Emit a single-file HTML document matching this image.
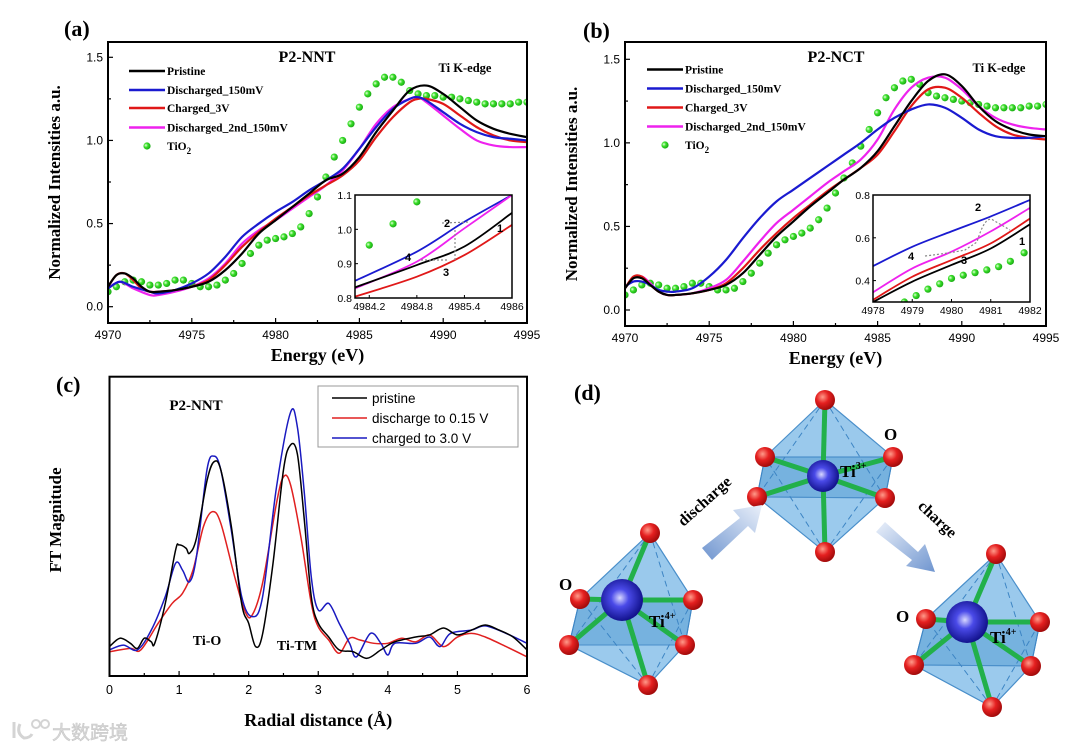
<!DOCTYPE html>
<html><head><meta charset="utf-8">
<style>
html,body{margin:0;padding:0;background:#fff;}
svg{display:block;}
.ser{font-family:"Liberation Serif",serif;font-weight:bold;}
.sans{font-family:"Liberation Sans",sans-serif;}
</style></head>
<body>
<svg id="fig" width="1080" height="750" viewBox="0 0 1080 750" xmlns="http://www.w3.org/2000/svg">
<defs>
<radialGradient id="gO" cx="0.38" cy="0.35" r="0.7"><stop offset="0" stop-color="#ff9a8a"/><stop offset="0.45" stop-color="#e52020"/><stop offset="1" stop-color="#9a0808"/></radialGradient>
<radialGradient id="gTi" cx="0.45" cy="0.45" r="0.6"><stop offset="0" stop-color="#d8d8ff"/><stop offset="0.35" stop-color="#4a4ae8"/><stop offset="1" stop-color="#0a0a80"/></radialGradient>
<radialGradient id="gDot" cx="0.35" cy="0.4" r="0.7"><stop offset="0" stop-color="#e8ffe0"/><stop offset="0.4" stop-color="#3be02a"/><stop offset="1" stop-color="#14a010"/></radialGradient>
<linearGradient id="gArrL" x1="0" y1="1" x2="1" y2="0"><stop offset="0" stop-color="#6f95cf"/><stop offset="1" stop-color="#eaf0fa"/></linearGradient>
<linearGradient id="gArrR" x1="0" y1="0" x2="1" y2="1"><stop offset="0" stop-color="#eaf0fa"/><stop offset="1" stop-color="#6f95cf"/></linearGradient>
</defs>
<g id="root"></g>
</svg>
<script>
// ===== Panel (a) data =====
const aPristineX=[4970,4970.5,4971,4971.5,4972,4972.5,4973,4974,4975,4976,4977,4978,4979,4980,4981,4982,4983,4984,4985,4986,4987,4988,4989,4990,4991,4992,4993,4994,4995];
const aPristineY=[0.12,0.19,0.2,0.17,0.12,0.09,0.09,0.1,0.12,0.15,0.22,0.32,0.44,0.52,0.6,0.68,0.76,0.8,0.9,1.05,1.18,1.3,1.33,1.28,1.2,1.12,1.07,1.04,1.02];
const aBlueX=[4970,4970.7,4971.5,4972.5,4973,4974,4975,4976,4977,4978,4979,4980,4981,4982,4983,4984,4985,4986,4987,4988,4988.5,4989,4990,4991,4992,4993,4994,4995];
const aBlueY=[0.11,0.15,0.12,0.09,0.08,0.1,0.14,0.2,0.3,0.42,0.5,0.57,0.63,0.7,0.76,0.83,0.95,1.08,1.19,1.25,1.26,1.24,1.17,1.1,1.05,1.02,1.01,1.0];
const aRedX=[4970,4970.5,4971,4971.5,4972,4972.5,4973,4974,4975,4976,4977,4978,4979,4980,4981,4982,4983,4984,4985,4986,4987,4988,4988.5,4989,4990,4991,4992,4993,4994,4995];
const aRedY=[0.12,0.19,0.2,0.16,0.11,0.09,0.09,0.1,0.12,0.16,0.25,0.36,0.45,0.53,0.6,0.67,0.73,0.79,0.88,1.02,1.14,1.23,1.25,1.25,1.22,1.15,1.08,1.03,1.0,0.99];
const aMagX=[4970,4970.7,4971.5,4972.5,4973,4974,4975,4976,4977,4978,4979,4980,4981,4982,4983,4984,4985,4986,4987,4988,4988.5,4989,4990,4991,4992,4993,4994,4995];
const aMagY=[0.11,0.15,0.11,0.07,0.07,0.09,0.12,0.17,0.26,0.38,0.46,0.52,0.59,0.66,0.73,0.82,0.95,1.1,1.2,1.25,1.26,1.23,1.15,1.07,1.0,0.97,0.96,0.96];
const aTiO2X=[4970,4970.5,4971,4971.5,4972,4972.5,4973,4973.5,4974,4974.5,4975,4975.5,4976,4976.5,4977,4977.5,4978,4978.5,4979,4979.5,4980,4980.5,4981,4981.5,4982,4982.5,4983,4983.5,4984,4984.5,4985,4985.5,4986,4986.5,4987,4987.5,4988,4988.5,4989,4989.5,4990,4990.5,4991,4991.5,4992,4992.5,4993,4993.5,4994,4994.5,4995];
const aTiO2Y=[0.09,0.12,0.15,0.16,0.15,0.13,0.13,0.14,0.16,0.16,0.14,0.12,0.12,0.13,0.16,0.2,0.26,0.32,0.37,0.4,0.41,0.42,0.44,0.48,0.56,0.66,0.78,0.9,1.0,1.1,1.2,1.28,1.34,1.38,1.38,1.35,1.3,1.28,1.27,1.27,1.26,1.26,1.25,1.24,1.23,1.22,1.22,1.22,1.22,1.23,1.23];
// inset (a)
const aiX=[4984.02,4984.8,4985.4,4986];
const aiBlue=[0.85,0.935,1.022,1.1];
const aiMag=[0.828,0.906,1.003,1.1];
const aiBlack=[0.831,0.896,0.95,1.048];
const aiRed=[0.804,0.862,0.925,1.013];
const aiDotX=[4984.2,4984.5,4984.8];
const aiDotY=[0.954,1.016,1.08];
// ===== Panel (b) data =====
const bX=[4970,4970.5,4971,4971.5,4972,4972.5,4973,4974,4975,4976,4977,4978,4979,4980,4981,4982,4983,4984,4985,4986,4987,4988,4989,4990,4991,4992,4993,4994,4995];
const bPristineY=[0.13,0.19,0.19,0.15,0.11,0.09,0.09,0.1,0.12,0.15,0.22,0.33,0.44,0.53,0.62,0.7,0.78,0.85,0.95,1.1,1.25,1.37,1.41,1.34,1.22,1.13,1.08,1.05,1.04];
const bBlueY=[0.14,0.17,0.17,0.15,0.12,0.11,0.11,0.13,0.2,0.3,0.43,0.55,0.65,0.72,0.79,0.86,0.93,1.0,1.08,1.15,1.2,1.23,1.21,1.15,1.08,1.04,1.03,1.03,1.04];
const bRedY=[0.13,0.2,0.2,0.15,0.11,0.09,0.09,0.1,0.12,0.16,0.25,0.36,0.46,0.55,0.63,0.71,0.78,0.85,0.93,1.07,1.22,1.32,1.33,1.27,1.18,1.1,1.05,1.03,1.02];
const bMagY=[0.13,0.19,0.2,0.16,0.11,0.09,0.09,0.1,0.13,0.18,0.29,0.41,0.52,0.6,0.68,0.76,0.83,0.9,1.02,1.2,1.33,1.39,1.39,1.32,1.22,1.15,1.11,1.09,1.08];
const bTiO2Y=[0.09,0.12,0.15,0.16,0.15,0.13,0.13,0.14,0.16,0.16,0.14,0.12,0.12,0.13,0.17,0.22,0.28,0.34,0.39,0.42,0.44,0.46,0.49,0.54,0.61,0.7,0.79,0.88,0.98,1.08,1.18,1.27,1.33,1.37,1.38,1.35,1.3,1.28,1.27,1.26,1.25,1.24,1.23,1.22,1.21,1.21,1.21,1.21,1.22,1.22,1.23];
// inset (b)
const biX=[4978,4979,4980,4981,4982];
const biBlue=[0.468,0.558,0.63,0.70,0.777];
const biMag=[0.345,0.457,0.535,0.63,0.74];
const biRed=[0.31,0.418,0.496,0.574,0.69];
const biBlack=[0.3,0.395,0.473,0.55,0.663];
const biDotX=[4978.8,4979.1,4979.4,4979.7,4980.0,4980.3,4980.6,4980.9,4981.2,4981.5,4981.85];
const biDotY=[0.30,0.33,0.36,0.385,0.41,0.425,0.437,0.45,0.465,0.49,0.53];
// ===== Panel (c) data =====
const cBlackX=[0,0.15,0.3,0.4,0.5,0.6,0.65,0.8,0.95,1.0,1.1,1.15,1.25,1.4,1.5,1.6,1.75,1.9,2.0,2.1,2.2,2.35,2.5,2.6,2.7,2.8,2.9,3.0,3.15,3.3,3.5,3.7,3.9,4.1,4.4,4.6,4.8,5.0,5.2,5.4,5.6,5.8,6.0];
const cBlackY=[9.8,12.6,10.9,9.2,12.6,11.4,10.9,24,42,43.7,42.6,40.9,46,65,71.4,68.7,50,24,17.6,9.8,14,37.6,68.7,77,74,52,26.4,17.6,13,8.7,8.1,5.9,8.7,11.4,13,13.7,16,13.7,15.3,17,15.3,13,8.7];
const cBlueX=[0,0.2,0.4,0.6,0.8,0.95,1.05,1.15,1.25,1.4,1.5,1.6,1.75,1.9,2.05,2.2,2.4,2.6,2.7,2.8,2.9,3.0,3.15,3.3,3.45,3.55,3.75,3.9,4.0,4.1,4.4,4.6,4.75,4.9,5.2,5.4,5.7,6.0];
const cBlueY=[8.7,10.3,8.7,15.3,26.4,37.6,35.3,31.4,39.8,68.7,73.3,68.7,48.7,26.4,19.8,26.4,63,87.8,83,61,33,22,24.2,17.6,10.9,6.4,14.2,10.9,7,10.9,10.9,13,9.8,14.2,15.3,16.7,14.2,10.9];
const cRedX=[0,0.3,0.45,0.7,0.9,1.05,1.2,1.35,1.48,1.6,1.8,1.95,2.05,2.2,2.4,2.5,2.6,2.75,2.9,3.0,3.15,3.3,3.45,3.6,3.8,4.0,4.2,4.4,4.6,4.8,5.0,5.2,5.4,5.7,6.0];
const cRedY=[8.1,9.2,8.7,17.6,24.2,27.6,35.3,49.8,54.8,50.9,33,21.4,20.3,31,57.6,66.4,63.9,46.4,24.2,16.4,12,7.6,12.6,12,10.9,10.9,12.6,11.4,13.7,9.8,13,14.2,13,9.8,6.4];
const eTicks=[4970,4975,4980,4985,4990,4995];
const yTicks=[0,0.5,1.0,1.5];
const cTicks=[0,1,2,3,4,5,6];
const legendA=["Pristine","Discharged_150mV","Charged_3V","Discharged_2nd_150mV"];
const legendC=["pristine","discharge to 0.15 V","charged to 3.0 V"];

const NS="http://www.w3.org/2000/svg";
const root=document.getElementById('root');
function mk(tag,attrs,parent){const e=document.createElementNS(NS,tag);for(const k in attrs)e.setAttribute(k,attrs[k]);(parent||root).appendChild(e);return e;}
function txt(s,x,y,cls,size,anchor,parent){const t=mk('text',{x:x,y:y,'font-size':size,'text-anchor':anchor||'start',class:cls},parent);t.textContent=s;return t;}
function lin(d0,d1,r0,r1){return v=>r0+(v-d0)/(d1-d0)*(r1-r0);}
function smooth(pts){let d='M'+pts[0][0].toFixed(2)+','+pts[0][1].toFixed(2);
 for(let i=0;i<pts.length-1;i++){const p0=pts[i-1]||pts[i],p1=pts[i],p2=pts[i+1],p3=pts[i+2]||p2;
  const c1=[p1[0]+(p2[0]-p0[0])/6,p1[1]+(p2[1]-p0[1])/6],c2=[p2[0]-(p3[0]-p1[0])/6,p2[1]-(p3[1]-p1[1])/6];
  d+='C'+c1[0].toFixed(2)+','+c1[1].toFixed(2)+' '+c2[0].toFixed(2)+','+c2[1].toFixed(2)+' '+p2[0].toFixed(2)+','+p2[1].toFixed(2);}
 return d;}
function line(xs,ys,sx,sy,color,w,name,parent){const p=mk('path',{d:smooth(xs.map((x,i)=>[sx(x),sy(ys[i])])),fill:'none',stroke:color,'stroke-width':w,'stroke-linejoin':'round'},parent);
 
 return p;}
function dots(xs,ys,sx,sy,r,name,parent){const g=mk('g',{},parent);
 
 
 xs.forEach((x,i)=>mk('circle',{cx:sx(x),cy:sy(ys[i]),r:r,fill:'url(#gDot)'},g));return g;}

const colK='#000',colB='#1a1ad0',colR='#e01818',colM='#ee22ee';

function xanesPanel(o){
 const g=mk('g',{});
 
 
 const sx=lin(4970,4995,o.L,o.R), sy=lin(0,1.5,o.y0,o.y15);
 const clip=mk('clipPath',{id:o.name+'-clip'},g);mk('rect',{x:o.L,y:o.T,width:o.R-o.L,height:o.B-o.T},clip);
 const plot=mk('g',{'clip-path':'url(#'+o.name+'-clip)'},g);
 dots(aTiO2X,o.tio2,sx,sy,3.6,'tio2-series',plot);
 line(o.xs[3],o.mag,sx,sy,colM,2.2,'discharged-2nd-line',plot);
 line(o.xs[2],o.red,sx,sy,colR,2.2,'charged-3v-line',plot);
 line(o.xs[1],o.blue,sx,sy,colB,2.2,'discharged-150mv-line',plot);
 line(o.xs[0],o.black,sx,sy,colK,2.2,'pristine-line',plot);
 const fr=mk('rect',{x:o.L,y:o.T,width:o.R-o.L,height:o.B-o.T,fill:'none',stroke:'#000','stroke-width':2},g);
 
 
 const xa=mk('g',{},g);
 
 
 for(let v=4970;v<=4995;v+=2.5){const big=(v%5===0);mk('line',{x1:sx(v),x2:sx(v),y1:o.B,y2:o.B-(big?5:3),stroke:'#000','stroke-width':1.2},xa);}
 eTicks.forEach(v=>txt(String(v),sx(v),o.B+16,'sans',12,'middle',xa));
 const ya=mk('g',{},g);
 
 
 for(let v=0;v<=1.5;v+=0.25){mk('line',{x1:o.L,x2:o.L+(Math.abs(v*2-Math.round(v*2))<1e-6?5:3),y1:sy(v),y2:sy(v),stroke:'#000','stroke-width':1.2},ya);}
 yTicks.forEach(v=>txt(v.toFixed(1),o.L-5,sy(v)+4,'sans',12,'end',ya));
 const xt=txt('Energy (eV)',(o.L+o.R)/2,o.B+38,'ser',18,'middle',g);
 
 const yt=txt('Normalized Intensities a.u.',0,0,'ser',17,'middle',g);
 yt.setAttribute('transform','translate('+o.ytx+','+((o.T+o.B)/2)+') rotate(-90)');
 
 const tl=txt(o.title,o.titleX,62,'ser',16,'middle',g);
 
 const te=txt('Ti K-edge',o.edgeX,72,'ser',12.5,'middle',g);
 
 const pl=txt(o.label,o.labX,o.labY,'ser',22,'start',g);
 
 // legend
 const lg=mk('g',{},g);
 
 
 const cols=[colK,colB,colR,colM];
 legendA.forEach((s,i)=>{const y=o.legY[i];
  const e=mk('g',{},lg);
  
  
  mk('line',{x1:o.legX,x2:o.legX+36,y1:y,y2:y,stroke:cols[i],'stroke-width':2.5},e);
  txt(s,o.legX+38,y+4,'ser',11.5,'start',e);});
 const e5=mk('g',{},lg);
 
 
 mk('circle',{cx:o.legX+18,cy:o.legY[4],r:3.6,fill:'url(#gDot)'},e5);
 const t5=txt('TiO',o.legX+38,o.legY[4]+4,'ser',11.5,'start',e5);
 const sub=mk('tspan',{'font-size':9,dy:4},t5);sub.textContent='2';
 // inset
 const ins=mk('g',{},g);
 
 
 const I=o.inset, isx=lin(I.x0,I.x1,I.L,I.R), isy=lin(I.y0,I.y1,I.B,I.T);
 mk('rect',{x:I.L,y:I.T,width:I.R-I.L,height:I.B-I.T,fill:'#fff',stroke:'none'},ins);
 const ic=mk('clipPath',{id:o.name+'-iclip'},ins);mk('rect',{x:I.L,y:I.T,width:I.R-I.L,height:I.B-I.T},ic);
 const ip=mk('g',{'clip-path':'url(#'+o.name+'-iclip)'},ins);
 dots(I.dx,I.dy,isx,isy,3.6,'inset-tio2',ip);
 line(I.xs,I.blue,isx,isy,colB,1.8,'inset-blue',ip);
 line(I.xs,I.mag,isx,isy,colM,1.8,'inset-magenta',ip);
 line(I.xs,I.black,isx,isy,colK,1.8,'inset-black',ip);
 line(I.xs,I.red,isx,isy,colR,1.8,'inset-red',ip);
 mk('path',{d:I.dotted,fill:'none',stroke:'#888','stroke-width':1.2,'stroke-dasharray':'2,2'},ip);
 mk('rect',{x:I.L,y:I.T,width:I.R-I.L,height:I.B-I.T,fill:'none',stroke:'#000','stroke-width':1.5},ins);
 I.xt.forEach(v=>{mk('line',{x1:isx(v),x2:isx(v),y1:I.B,y2:I.B-3,stroke:'#000'},ins);txt(String(v),isx(v),I.B+12,'sans',10.5,'middle',ins);});
 I.yt.forEach(v=>{mk('line',{x1:I.L,x2:I.L+3,y1:isy(v),y2:isy(v),stroke:'#000'},ins);txt(v.toFixed(1),I.L-3,isy(v)+4,'sans',10.5,'end',ins);});
 I.nums.forEach(n=>txt(n[0],n[1],n[2],'sans',11,'middle',ins).setAttribute('font-weight','bold'));
}

xanesPanel({name:'panel-a',L:108,R:527,T:42,B:323,y0:306.7,y15:57.3,ytx:60,title:'P2-NNT',titleX:307,edgeX:465,label:'(a)',labX:64,labY:36,
 legX:129,legY:[71,90,108,127.5,146],
 xs:[aPristineX,aBlueX,aRedX,aMagX],black:aPristineY,blue:aBlueY,red:aRedY,mag:aMagY,tio2:aTiO2Y,
 inset:{L:355,R:512,T:195,B:298,x0:4984.02,x1:4986,y0:0.8,y1:1.1,xs:aiX,blue:aiBlue,mag:aiMag,black:aiBlack,red:aiRed,dx:aiDotX,dy:aiDotY,
  xt:[4984.2,4984.8,4985.4,4986],yt:[0.8,0.9,1.0,1.1],
  dotted:'M442,223 L470,222 M455,230 L455,260 M421,260 L448,260',
  nums:[['2',447,227],['1',500,232],['4',408,261],['3',446,276]]}});
xanesPanel({name:'panel-b',L:625,R:1046,T:42,B:326,y0:310,y15:59.3,ytx:577,title:'P2-NCT',titleX:836,edgeX:999,label:'(b)',labX:583,labY:38,
 legX:647,legY:[69.5,88.5,107.5,126.5,145],
 xs:[bX,bX,bX,bX],black:bPristineY,blue:bBlueY,red:bRedY,mag:bMagY,tio2:bTiO2Y,
 inset:{L:873,R:1030,T:195,B:302,x0:4978,x1:4982,y0:0.3,y1:0.8,xs:biX,blue:biBlue,mag:biMag,black:biBlack,red:biRed,dx:biDotX,dy:biDotY,
  xt:[4978,4979,4980,4981,4982],yt:[0.4,0.6,0.8],
  dotted:'M925,256 Q950,253 965,250 L977,242 Q985,215 993,220 L1010,230',
  nums:[['2',978,211],['1',1022,245],['4',911,260],['3',964,264]]}});

// ===== Panel (c) =====
(function(){
 const g=mk('g',{});
 
 
 const L=109.5,R=527,T=376.7,B=676;
 const sx=lin(0,6,L,R), sy=lin(0,99.8,B,T);
 line(cRedX,cRedY,sx,sy,'#e02020',1.5,'discharge-line',g);
 line(cBlueX,cBlueY,sx,sy,'#1a1ac0',1.5,'charged-line',g);
 line(cBlackX,cBlackY,sx,sy,'#000',1.5,'pristine-line',g);
 const fr=mk('rect',{x:L,y:T,width:R-L,height:B-T,fill:'none',stroke:'#000','stroke-width':2},g);
 
 
 const xa=mk('g',{},g);
 
 
 for(let v=0;v<=6;v+=0.5){mk('line',{x1:sx(v),x2:sx(v),y1:B,y2:B-(v%1===0?5:3),stroke:'#000','stroke-width':1.2},xa);}
 cTicks.forEach(v=>txt(String(v),sx(v),B+18,'sans',12.5,'middle',xa));
 const xt=txt('Radial distance (Å)',(L+R)/2,726,'ser',18,'middle',g);
 
 const yt=txt('FT Magnitude',0,0,'ser',17,'middle',g);
 yt.setAttribute('transform','translate(61,520) rotate(-90)');
 
 const pl=txt('(c)',56,392,'ser',22,'start',g);
 
 const tl=txt('P2-NNT',196,410,'ser',15,'middle',g);
 
 const a1=txt('Ti-O',207,645,'ser',14,'middle',g);
 
 const a2=txt('Ti-TM',297,650,'ser',14,'middle',g);
 
 const lg=mk('g',{},g);
 
 
 mk('rect',{x:318,y:386,width:200,height:61,fill:'#fff',stroke:'#999','stroke-width':1},lg);
 const cc=['#000','#e02020','#1a1ac0'];
 legendC.forEach((s,i)=>{const y=398+i*20;
  const e=mk('g',{},lg);
  
  
  mk('line',{x1:332,x2:367,y1:y,y2:y,stroke:cc[i],'stroke-width':1.6},e);
  txt(s,372,y+5,'sans',13.5,'start',e);});
})();

// ===== Panel (d) schematic =====
(function(){
 const g=mk('g',{});
 
 
 const pl=txt('(d)',574,400,'ser',22,'start',g);
 
 function octa(name,ti,top,bot,lu,ru,ld,rd,rTi){
  const o=mk('g',{},g);
  
  
  mk('polygon',{points:[top,ru,rd,bot,ld,lu].map(p=>p.join(',')).join(' '),fill:'#8fc3ea',stroke:'#4a8fca','stroke-width':1.2,'fill-opacity':0.9},o);
  mk('polygon',{points:[lu,ru,rd,ld].map(p=>p.join(',')).join(' '),fill:'#5a9fd6','fill-opacity':0.55,stroke:'#3d85c4','stroke-width':1},o);
  mk('polygon',{points:[ld,rd,bot].map(p=>p.join(',')).join(' '),fill:'#9ccbee','fill-opacity':0.6,stroke:'#4a8fca','stroke-width':1},o);
  [[top,ld],[top,rd],[bot,lu],[bot,ru]].forEach(s=>mk('line',{x1:s[0][0],y1:s[0][1],x2:s[1][0],y2:s[1][1],stroke:'#3d85c4','stroke-width':1,'stroke-dasharray':'6,4'},o));
  [top,bot,lu,ru,ld,rd].forEach(p=>mk('line',{x1:ti[0],y1:ti[1],x2:p[0],y2:p[1],stroke:'#22b04a','stroke-width':5},o));
  mk('circle',{cx:ti[0],cy:ti[1],r:rTi,fill:'url(#gTi)'},o);
  [top,bot,lu,ru,ld,rd].forEach(p=>mk('circle',{cx:p[0],cy:p[1],r:10,fill:'url(#gO)'},o));
 }
 octa('octahedron-pristine',[622,600],[650,533],[648,685],[580,599],[693,600],[569,645],[685,645],21);
 octa('octahedron-discharged',[823,476],[825,400],[825,552],[765,457],[893,457],[757,497],[885,498],16);
 octa('octahedron-charged',[967,622],[996,554],[992,707],[926,619],[1040,622],[914,665],[1031,666],21);
 const al=mk('polygon',{points:'702,548 740,518 733,510 762,505 755,533 748,526 712,560',fill:'url(#gArrL)'},g);
 
 const ar=mk('polygon',{points:'885,522 918,552 925,544 935,572 906,566 912,560 876,532',fill:'url(#gArrR)'},g);
 
 const t1=txt('discharge',0,0,'ser',16,'middle',g);
 t1.setAttribute('transform','translate(708,505) rotate(-42)');
 
 const t2=txt('charge',0,0,'ser',16,'middle',g);
 t2.setAttribute('transform','translate(934,523) rotate(43)');
 
 function ion(s,sup,x,y,name){const t=txt(s,x,y,'ser',17,'start',g);
  if(sup){const sp=mk('tspan',{'font-size':10,dy:-8},t);sp.textContent=sup;}
  }
 ion('O','',884,440,'o-label');
 ion('Ti','3+',840,477,'ti3-label');
 ion('O','',559,590,'o-label');
 ion('Ti','4+',649,627,'ti4-label');
 ion('O','',896,622,'o-label');
 ion('Ti','4+',990,643,'ti4-label');
})();

// watermark
(function(){
 const w=mk('g',{});
 
 
 mk('path',{d:'M14,722 L14,738 M20,724 Q16,733 24,738 Q30,738 32,734',fill:'none',stroke:'#d4d4d4','stroke-width':3},w);
 mk('circle',{cx:36,cy:724,r:4,fill:'none',stroke:'#d4d4d4','stroke-width':2},w);
 mk('circle',{cx:45,cy:724,r:4,fill:'none',stroke:'#d4d4d4','stroke-width':2},w);
 const t=mk('text',{x:52,y:739,'font-size':19,fill:'#d8d8d8',stroke:'#c4c4c4','stroke-width':0.5,'font-family':'"Noto Sans CJK SC",sans-serif'},w);
 t.textContent='大数跨境';
})();
</script>
</body></html>
